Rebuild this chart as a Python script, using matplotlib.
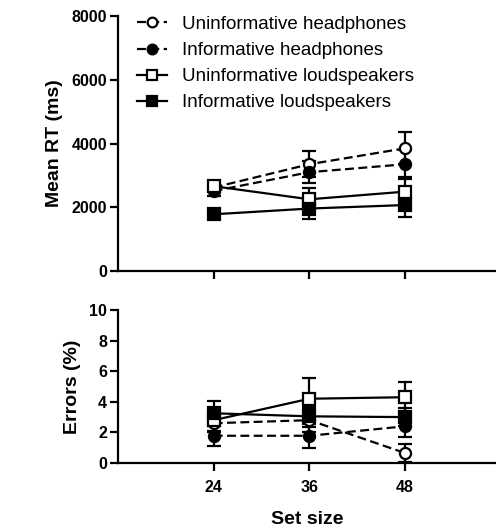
import matplotlib
matplotlib.use("Agg")
import matplotlib.pyplot as plt
from matplotlib.lines import Line2D

plt.rcParams['font.family'] = ['Liberation Sans', 'DejaVu Sans']

set_size = [24, 36, 48]

labels = ["Uninformative headphones", "Informative headphones",
          "Uninformative loudspeakers", "Informative loudspeakers"]

# mean RT (ms) and SEM
rt_uh = [2620, 3350, 3850]
rt_uh_err = [150, 400, 500]
rt_ih = [2510, 3100, 3350]
rt_ih_err = [150, 350, 450]
rt_ul = [2660, 2250, 2490]
rt_ul_err = [150, 350, 450]
rt_il = [1780, 1960, 2070]
rt_il_err = [100, 330, 370]

# errors (%) and SEM
er_uh = [2.6, 2.8, 0.65]
er_uh_err = [0.6, 0.8, 0.6]
er_ih = [1.78, 1.78, 2.4]
er_ih_err = [0.7, 0.8, 0.7]
er_ul = [2.8, 4.2, 4.3]
er_ul_err = [0.7, 1.35, 1.0]
er_il = [3.25, 3.05, 3.0]
er_il_err = [0.8, 0.7, 0.6]

styles = [
    dict(marker='o', mfc='white', ls=(0, (4, 2))),
    dict(marker='o', mfc='black', ls=(0, (4, 2))),
    dict(marker='s', mfc='white', ls='-'),
    dict(marker='s', mfc='black', ls='-'),
]

fig = plt.figure(figsize=(4.96, 5.28), dpi=100)
ax1 = fig.add_axes([0.238, 0.4867, 0.762, 0.483])
ax2 = fig.add_axes([0.238, 0.1231, 0.762, 0.2898])


def draw(ax, series, errs):
    for y, e, st in zip(series, errs, styles):
        ax.errorbar(set_size, y, yerr=e, color='black', mec='black',
                    marker=st['marker'], mfc=st['mfc'], ls=st['ls'],
                    ms=8, mew=1.6, lw=1.6, elinewidth=1.6, capsize=5,
                    capthick=1.6)


draw(ax1, [rt_uh, rt_ih, rt_ul, rt_il], [rt_uh_err, rt_ih_err, rt_ul_err, rt_il_err])
draw(ax2, [er_uh, er_ih, er_ul, er_il], [er_uh_err, er_ih_err, er_ul_err, er_il_err])

for ax in (ax1, ax2):
    ax.set_xlim(12, 59.4)
    ax.spines['top'].set_visible(False)
    ax.spines['right'].set_visible(False)
    ax.spines['left'].set_linewidth(1.6)
    ax.spines['bottom'].set_linewidth(1.6)
    ax.tick_params(direction='out', length=6, width=1.6, labelsize=11.5)
    ax.tick_params(axis='y', pad=2)
    ax.tick_params(axis='x', pad=6)
    ax.set_xticks(set_size)

ax1.set_ylim(0, 8000)
ax1.set_yticks([0, 2000, 4000, 6000, 8000])
ax1.set_xticklabels([])
ax1.set_ylabel("Mean RT (ms)", fontsize=14, fontweight='bold', labelpad=6)

ax2.set_ylim(0, 10)
ax2.set_yticks([0, 2, 4, 6, 8, 10])
ax2.set_ylabel("Errors (%)", fontsize=14, fontweight='bold', labelpad=6)
ax2.set_xlabel("Set size", fontsize=14, fontweight='bold', labelpad=12)
for t in ax1.get_yticklabels() + ax2.get_yticklabels() + ax2.get_xticklabels():
    t.set_fontweight('bold')

handles = [Line2D([], [], color='black', marker=st['marker'], mfc=st['mfc'],
                  mec='black', ls=st['ls'], lw=1.6, ms=7, mew=1.6)
           for st in styles]
ax1.legend(handles, labels, loc='upper left', bbox_to_anchor=(0.03, 1.03),
           frameon=False, fontsize=13.5, handlelength=1.6, handletextpad=0.8,
           labelspacing=0.48, borderaxespad=0)

fig.savefig("out.png", dpi=100)
